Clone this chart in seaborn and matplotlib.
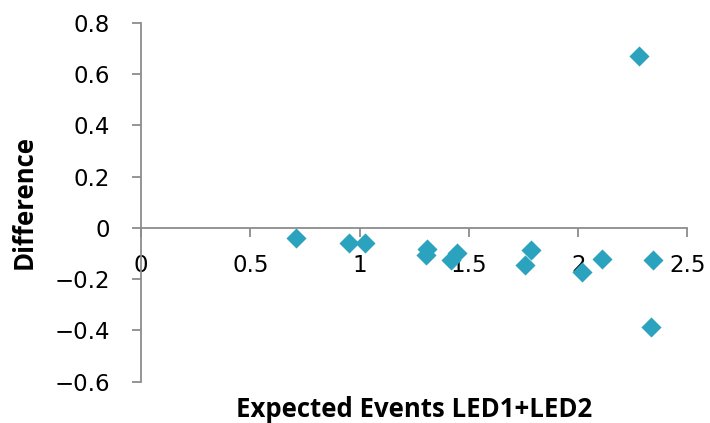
import matplotlib
matplotlib.use("Agg")
import matplotlib.pyplot as plt
import seaborn as sns
import pandas as pd

expected_events = [0.71, 0.95, 1.025, 1.307, 1.304, 1.444, 1.417, 1.783, 1.757,
                   2.017, 2.107, 2.341, 2.333, 2.28]
difference = [-0.041, -0.059, -0.059, -0.081, -0.104, -0.098, -0.126, -0.087, -0.143,
              -0.172, -0.12, -0.126, -0.387, 0.67]

x_ticks = [0, 0.5, 1, 1.5, 2, 2.5]
x_tick_labels = ["0", "0.5", "1", "1.5", "2", "2.5"]
y_ticks = [-0.6, -0.4, -0.2, 0, 0.2, 0.4, 0.6, 0.8]
y_tick_labels = ["\u22120.6", "\u22120.4", "\u22120.2", "0", "0.2", "0.4", "0.6", "0.8"]

sns.set_theme(style="white")
plt.rcParams["font.family"] = ["DejaVu Sans"]

df = pd.DataFrame({"Expected": expected_events, "Difference": difference})

fig = plt.figure(figsize=(7.1, 4.23), dpi=100)
ax = fig.add_axes([0.1986, 0.0976, 0.9683 - 0.1986, 0.9456 - 0.0976])

sns.scatterplot(data=df, x="Expected", y="Difference", marker="D", s=105,
                color="#2BA3BF", linewidth=0, ax=ax, zorder=1, clip_on=False)

ax.set_xlim(0, 2.5)
ax.set_ylim(-0.6, 0.8)

spine_color = "#8C8C8C"
for side in ["top", "right"]:
    ax.spines[side].set_visible(False)
ax.spines["bottom"].set_position(("data", 0))
for side in ["left", "bottom"]:
    ax.spines[side].set_color(spine_color)
    ax.spines[side].set_linewidth(1.3)

ax.set_xticks(x_ticks)
ax.set_xticklabels(x_tick_labels)
ax.set_yticks(y_ticks)
ax.set_yticklabels(y_tick_labels)
ax.tick_params(axis="both", which="major", direction="out", length=6.5, width=1.3,
               color=spine_color, labelsize=16.5, labelcolor="black")
ax.tick_params(axis="y", pad=16, left=True)
ax.tick_params(axis="x", pad=12, bottom=True)

label_font = {"family": ["Open Sans", "DejaVu Sans"], "size": 18.5,
              "weight": "bold", "color": "black"}
ax.set_xlabel("Expected Events LED1+LED2", fontdict=label_font)
ax.xaxis.set_label_coords(0.5, -0.04)
ax.set_ylabel("Difference", fontdict=label_font)
ax.yaxis.set_label_coords(-0.19, 0.5)

ax.grid(False)
fig.savefig("out.png", dpi=100)
